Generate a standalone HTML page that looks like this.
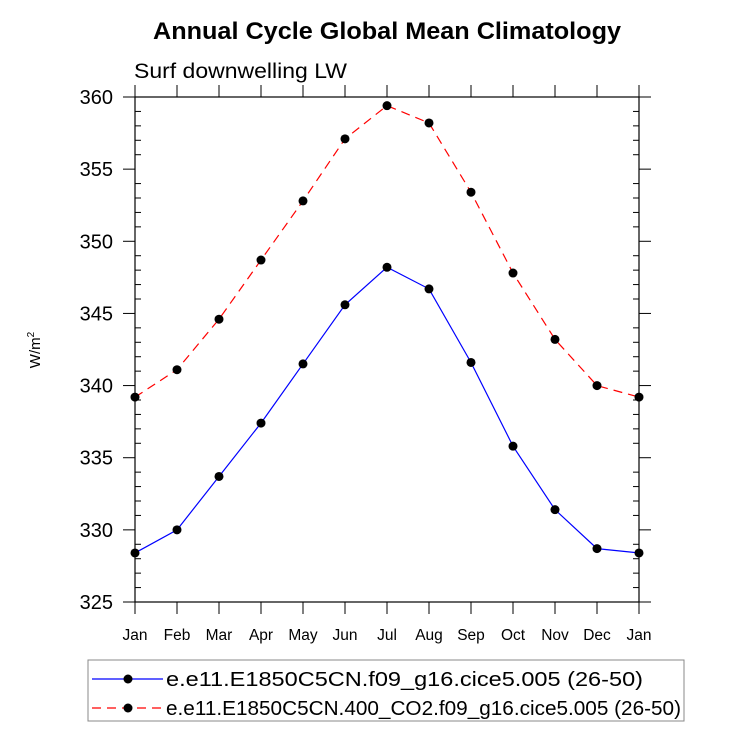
<!DOCTYPE html>
<html><head><meta charset="utf-8"><style>
html,body{margin:0;padding:0;background:#fff;}
svg text{font-family:"Liberation Sans",Arial,sans-serif;}
</style></head><body>
<svg id="chart" width="733" height="734" xmlns="http://www.w3.org/2000/svg">
<text x="153" y="39" font-size="24" font-weight="bold" textLength="468" lengthAdjust="spacingAndGlyphs">Annual Cycle Global Mean Climatology</text>
<text x="134" y="78" font-size="21" textLength="213" lengthAdjust="spacingAndGlyphs">Surf downwelling LW</text>
<text transform="translate(40,350) rotate(-90)" text-anchor="middle" font-size="15">W/m<tspan dy="-6" font-size="10">2</tspan></text>
<g id="axes"></g>
<g id="series"></g>
<g>
<rect x="88" y="660" width="596" height="61" fill="none" stroke="#888" stroke-width="1"/>
<g>
<line x1="92" y1="679" x2="163" y2="679" stroke="#0000ff" stroke-width="1.2"/>
<circle cx="128" cy="679" r="4.5" fill="#000"/>
<text x="166" y="686" font-size="20" textLength="477" lengthAdjust="spacingAndGlyphs">e.e11.E1850C5CN.f09_g16.cice5.005 (26-50)</text>
</g>
<g>
<line x1="92" y1="708" x2="163" y2="708" stroke="#ff0000" stroke-width="1.2" stroke-dasharray="9,6"/>
<circle cx="128" cy="708" r="4.5" fill="#000"/>
<text x="166" y="715" font-size="20" textLength="515" lengthAdjust="spacingAndGlyphs">e.e11.E1850C5CN.400_CO2.f09_g16.cice5.005 (26-50)</text>
</g>
</g>
</svg>
<script>
const months = ["Jan","Feb","Mar","Apr","May","Jun","Jul","Aug","Sep","Oct","Nov","Dec","Jan"];
const controlValues = [328.4,330.0,333.7,337.4,341.5,345.6,348.2,346.7,341.6,335.8,331.4,328.7,328.4];
const co2Values = [339.2,341.1,344.6,348.7,352.8,357.1,359.4,358.2,353.4,347.8,343.2,340.0,339.2];
const yTicks = [325,330,335,340,345,350,355,360];

const L=135,R=639,T=97,B=602,YMIN=325,YMAX=360;
const NS="http://www.w3.org/2000/svg";
function xs(i){return L+(R-L)*i/(months.length-1);}
function ys(v){return B-(v-YMIN)/(YMAX-YMIN)*(B-T);}
function mk(tag,attrs,parent){const e=document.createElementNS(NS,tag);for(const k in attrs)e.setAttribute(k,attrs[k]);parent.appendChild(e);return e;}
const axes=document.getElementById('axes');
const frame=mk('rect',{x:L,y:T,width:R-L,height:B-T,fill:'none',stroke:'#000','stroke-width':1.2},axes);


months.forEach((m,i)=>{
  const x=xs(i);
  mk('line',{x1:x,y1:B,x2:x,y2:B+12,stroke:'#000','stroke-width':1},axes);
  mk('line',{x1:x,y1:T,x2:x,y2:T-12,stroke:'#000','stroke-width':1},axes);
  const t=mk('text',{x:x,y:B+38,'text-anchor':'middle','font-size':15.5},axes);
  t.textContent=m;
  
  
});
yTicks.forEach(v=>{
  const y=ys(v);
  mk('line',{x1:L-12,y1:y,x2:L,y2:y,stroke:'#000','stroke-width':1},axes);
  mk('line',{x1:R,y1:y,x2:R+12,y2:y,stroke:'#000','stroke-width':1},axes);
  const t=mk('text',{x:L-22,y:y+7,'text-anchor':'end','font-size':20},axes);
  t.textContent=v;
  
  
});
for(let v=YMIN+1;v<YMAX;v++){
  if(v%5===0)continue;
  const y=ys(v);
  mk('line',{x1:L,y1:y,x2:L+6,y2:y,stroke:'#000','stroke-width':1},axes);
  mk('line',{x1:R-6,y1:y,x2:R,y2:y,stroke:'#000','stroke-width':1},axes);
}
const series=document.getElementById('series');
function drawSeries(vals,color,dash,name){
  const g=mk('g',{},series);
  
  
  const pts=vals.map((v,i)=>xs(i)+','+ys(v)).join(' ');
  const attrs={points:pts,fill:'none',stroke:color,'stroke-width':1.2};
  if(dash)attrs['stroke-dasharray']=dash;
  mk('polyline',attrs,g);
  vals.forEach((v,i)=>{
    const c=mk('circle',{cx:xs(i),cy:ys(v),r:4.5,fill:'#000'},g);
    
    
  });
}
drawSeries(controlValues,'#0000ff',null,'series-control');
drawSeries(co2Values,'#ff0000','9,6','series-co2');
</script>
</body></html>
